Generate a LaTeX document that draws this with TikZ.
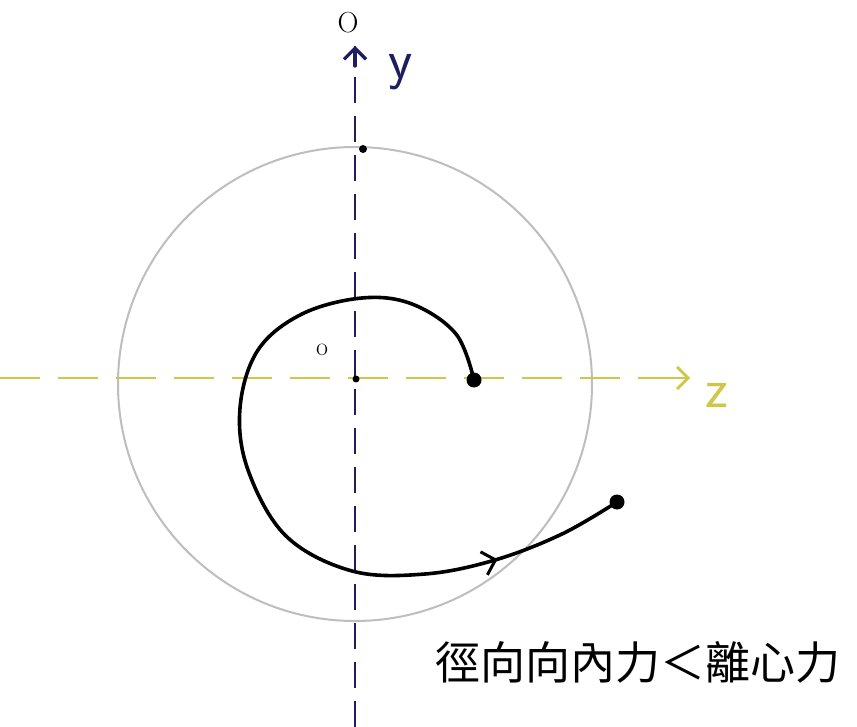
\documentclass[tikz,border=0pt]{standalone}
\usepackage{fontspec}
\newfontfamily\cjk{Noto Sans CJK TC}
\usetikzlibrary{arrows.meta,decorations.markings}
\definecolor{navyax}{RGB}{28,30,95}
\definecolor{yelax}{RGB}{208,198,72}
\definecolor{circgray}{RGB}{190,190,190}
\tikzset{
  yaxis/.style={navyax,line width=2.8pt,dash pattern=on 26pt off 13pt},
  zaxis/.style={yelax,line width=2.6pt,dash pattern=on 40pt off 18pt},
  dotnode/.style={circle,fill=black,inner sep=0pt,minimum size=#1},
  pathline/.style={black,line width=3.6pt,line cap=round},
  midarrow/.style={postaction={decorate,decoration={markings,
     mark=at position #1 with {\arrow[black,line width=3pt]{Straight Barb[length=12pt,width=24pt]}}}}}
}
\begin{document}
\begin{tikzpicture}[x=1pt,y=-1pt]
\useasboundingbox (0,0) rectangle (857,727);
\fill[white] (0,0) rectangle (857,727);
% circle
\node[circle,draw=circgray,line width=2pt,minimum size=474pt,inner sep=0pt] (circ) at (355,384) {};
% axes
\coordinate (ybot) at (355,727);
\coordinate (ytop) at (355,46);
\coordinate (zleft) at (0,378);
\coordinate (zright) at (690,378);
\draw[yaxis] (ybot) -- (ytop);
\draw[navyax,line width=3.2pt,line cap=round,-{Straight Barb[length=11pt,width=22pt]}] (355,66) -- (ytop);
\draw[zaxis] (zleft) -- (zright);
\draw[yelax,line width=2.8pt,-{Straight Barb[length=11pt,width=22pt]}] (650,378) -- (zright);
% dots
\node[dotnode=8pt] (topdot) at (363,149) {};
\node[dotnode=7pt] (origin) at (356,379) {};
\node[dotnode=15pt] (s1) at (474,380) {};
\node[dotnode=15pt] (s2) at (617,502) {};
% spiral
\coordinate (p1) at (456,334);
\coordinate (p2) at (412,304);
\coordinate (p3) at (362,298);
\coordinate (p4) at (302,314);
\coordinate (p5) at (258,350);
\coordinate (p6) at (240,408);
\coordinate (p7) at (248,470);
\coordinate (p8) at (286,536);
\coordinate (p9) at (352,571);
\coordinate (p10) at (425,574);
\coordinate (p11) at (495,560);
\coordinate (p12) at (562,534);
\draw[pathline,midarrow=0.84] plot[smooth,tension=0.6] coordinates {(s1) (p1) (p2) (p3) (p4) (p5) (p6) (p7) (p8) (p9) (p10) (p11) (p12) (s2)};
% labels
\node[font=\fontsize{29}{30}\selectfont] (Olab) at (348,23) {O};
\node[navyax,font=\fontsize{56}{58}\sffamily\selectfont] (ylab) at (401,72) {y};
\node[yelax,font=\fontsize{56}{58}\sffamily\selectfont] (zlab) at (717,395) {z};
\node[font=\fontsize{26}{28}\selectfont] (olab) at (322,350) {o};
\node[anchor=west,font=\cjk\fontsize{45}{47}\selectfont] (txt) at (432,662) {徑向向內力＜離心力};
\end{tikzpicture}
\end{document}
